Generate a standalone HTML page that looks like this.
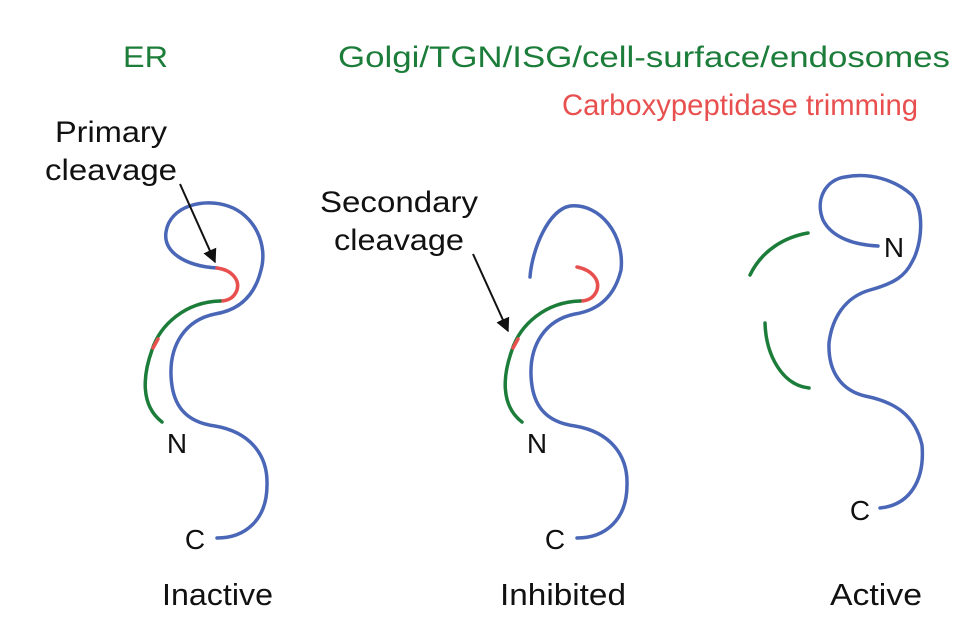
<!DOCTYPE html>
<html><head><meta charset="utf-8"><style>html,body{margin:0;padding:0;background:#fff}svg{display:block}</style></head>
<body>
<svg width="969" height="622" viewBox="0 0 969 622" xmlns="http://www.w3.org/2000/svg" font-family="Liberation Sans, Arial, sans-serif">
<defs>
<marker id="ah2" viewBox="0 0 10 10" markerWidth="14" markerHeight="16" refX="9" refY="5" orient="auto" markerUnits="userSpaceOnUse"><path d="M0,0 L10,5 L0,10 z" fill="#111"/></marker></defs>
<g font-size="30">
<text x="123" y="67" fill="#1c7d3a" textLength="45" lengthAdjust="spacingAndGlyphs">ER</text>
<text x="338" y="67" fill="#1c7d3a" textLength="612" lengthAdjust="spacingAndGlyphs">Golgi/TGN/ISG/cell-surface/endosomes</text>
<text x="562" y="115" fill="#e8504f" textLength="356" lengthAdjust="spacingAndGlyphs">Carboxypeptidase trimming</text>
<text x="55" y="142" fill="#111" textLength="112" lengthAdjust="spacingAndGlyphs">Primary</text>
<text x="45" y="180" fill="#111" textLength="132" lengthAdjust="spacingAndGlyphs">cleavage</text>
<text x="320" y="212" fill="#111" textLength="158" lengthAdjust="spacingAndGlyphs">Secondary</text>
<text x="334" y="250" fill="#111" textLength="130" lengthAdjust="spacingAndGlyphs">cleavage</text>
</g>
<g font-size="28" fill="#111" text-anchor="middle">
<text x="177" y="453">N</text>
<text x="537" y="453">N</text>
<text x="894" y="257">N</text>
<text x="195" y="549">C</text>
<text x="555" y="549">C</text>
<text x="860" y="520">C</text>
</g>
<g font-size="31" fill="#111">
<text x="162" y="605" textLength="111" lengthAdjust="spacingAndGlyphs">Inactive</text>
<text x="500" y="605" textLength="126" lengthAdjust="spacingAndGlyphs">Inhibited</text>
<text x="830" y="605" textLength="92" lengthAdjust="spacingAndGlyphs">Active</text>
</g>
<g fill="none" stroke-width="3.5" stroke-linecap="round">
<path stroke="#4a66b7" d="M217,268 C185,266 163,252 166,232 C170,205 205,198 228,206 C255,215 268,245 261,270 C255,295 240,310 215,314 C185,320 170,345 171,375 C172,405 185,422 215,426 C250,432 268,455 267,485 C267,520 245,538 217,538"/>
<path stroke="#e8504f" d="M217,268 C232,270 240,280 237,290 C234,298 228,301 220,301"/>
<path stroke="#1c7d3a" d="M220,301 C185,302 160,325 152,350 C143,375 140,405 162,422"/>
<path stroke="#e8504f" d="M158,339 L153,348"/>
<path stroke="#4a66b7" d="M530,277 C532,250 548,210 570,206 C600,203 625,235 621,270 C615,295 600,310 575,314 C545,320 530,345 531,375 C532,405 545,422 575,426 C610,432 628,455 627,485 C627,520 605,538 577,538"/>
<path stroke="#e8504f" d="M577,267 C592,270 600,280 597,290 C594,298 588,301 580,301"/>
<path stroke="#1c7d3a" d="M580,301 C545,302 520,325 512,350 C503,375 500,405 522,422"/>
<path stroke="#e8504f" d="M518,339 L513,348"/>
<path stroke="#4a66b7" d="M878,246 C855,245 832,238 823,220 C815,200 825,180 845,177 C870,172 895,180 912,195 C925,210 922,245 912,262 C905,276 895,283 870,290 C845,297 832,318 829,343 C828,370 840,390 865,396 C895,402 915,415 922,445 C925,480 910,505 880,508"/>
<path stroke="#1c7d3a" d="M808,233 C785,237 762,250 750,275"/>
<path stroke="#1c7d3a" d="M765,323 C766,355 782,385 809,388"/>
</g>
<g stroke="#111" stroke-width="2">
<line x1="180" y1="184" x2="215" y2="262" marker-end="url(#ah2)"/>
<line x1="473" y1="254" x2="508" y2="331" marker-end="url(#ah2)"/>
</g>
</svg>
</body></html>
